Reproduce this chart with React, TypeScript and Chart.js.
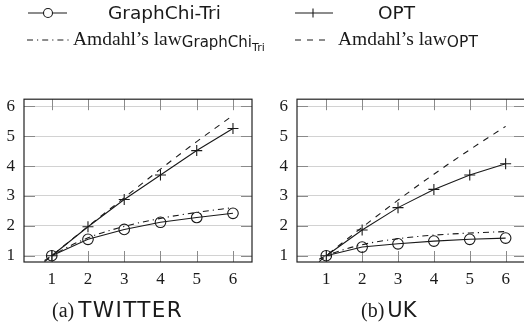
import React, { useEffect, useRef } from "react";
import { Chart, registerables } from "chart.js";

Chart.register(...registerables);

// ---- data ----
const xTicks = [1, 2, 3, 4, 5, 6];
const yTicks = [1, 2, 3, 4, 5, 6];
const threads = [1, 2, 3, 4, 5, 6];
const amdahlThreads = [0.8, 1, 2, 3, 4, 5, 6];

const twitterGraphChi = [1, 1.55, 1.88, 2.12, 2.28, 2.42];
const twitterOPT = [1, 1.97, 2.88, 3.7, 4.52, 5.26];
const twitterAmdahlGraphChi = [0.84, 1, 1.6, 1.98, 2.25, 2.45, 2.61];
const twitterAmdahlOPT = [0.8, 1, 1.98, 2.94, 3.9, 4.82, 5.7];

const ukGraphChi = [1, 1.29, 1.4, 1.49, 1.55, 1.59];
const ukOPT = [1, 1.86, 2.61, 3.22, 3.7, 4.08];
const ukAmdahlGraphChi = [0.88, 1, 1.37, 1.57, 1.69, 1.76, 1.81];
const ukAmdahlOPT = [0.8, 1, 1.95, 2.86, 3.73, 4.55, 5.33];

const INK = "#1a1a1a";

const framePlugin = {
  id: "pgfFrame",
  beforeDatasetsDraw(chart: any) {
    const { ctx, chartArea, scales } = chart;
    const { left, right, top, bottom } = chartArea;
    ctx.save();
    ctx.strokeStyle = "#8a8a8a";
    ctx.lineWidth = 1;
    ctx.beginPath();
    for (const v of xTicks) {
      const px = Math.round(scales.x.getPixelForValue(v)) + 0.5;
      ctx.moveTo(px, bottom);
      ctx.lineTo(px, bottom - 11);
      ctx.moveTo(px, top);
      ctx.lineTo(px, top + 11);
    }
    for (const v of yTicks) {
      const py = Math.round(scales.y.getPixelForValue(v)) + 0.5;
      ctx.moveTo(left, py);
      ctx.lineTo(left + 11, py);
      ctx.moveTo(right, py);
      ctx.lineTo(right - 11, py);
    }
    ctx.stroke();
    ctx.restore();
  },
  afterDatasetsDraw(chart: any) {
    const { ctx, chartArea } = chart;
    const { left, right, top, bottom } = chartArea;
    ctx.save();
    ctx.strokeStyle = "#222";
    ctx.lineWidth = 1.2;
    ctx.strokeRect(left, top, right - left, bottom - top);
    ctx.restore();
  },
};

type PanelProps = {
  left: number;
  width: number;
  xMin: number;
  xMax: number;
  axisWidth: number;
  padRight: number;
  graphChi: number[];
  opt: number[];
  amdahlGraphChi: number[];
  amdahlOPT: number[];
};

function Panel(p: PanelProps) {
  const ref = useRef<HTMLCanvasElement>(null);
  useEffect(() => {
    if (!ref.current) return;
    const line = (xs: number[], ys: number[]) => xs.map((x, i) => ({ x, y: ys[i] }));
    const chart = new Chart(ref.current, {
      type: "scatter",
      data: {
        datasets: [
          {
            data: line(amdahlThreads, p.amdahlOPT),
            showLine: true,
            borderColor: INK,
            borderWidth: 1.1,
            borderDash: [6, 6],
            pointRadius: 0,
            cubicInterpolationMode: "monotone",
          },
          {
            data: line(amdahlThreads, p.amdahlGraphChi),
            showLine: true,
            borderColor: INK,
            borderWidth: 1.1,
            borderDash: [6, 4, 1.2, 4],
            pointRadius: 0,
            cubicInterpolationMode: "monotone",
          },
          {
            data: line(threads, p.opt),
            showLine: true,
            borderColor: INK,
            borderWidth: 1.1,
            pointStyle: "cross",
            pointRadius: 5.5,
            pointBorderWidth: 1.1,
            pointBorderColor: INK,
            pointBackgroundColor: "transparent",
          },
          {
            data: line(threads, p.graphChi),
            showLine: true,
            borderColor: INK,
            borderWidth: 1.1,
            pointStyle: "circle",
            pointRadius: 5.3,
            pointBorderWidth: 1.1,
            pointBorderColor: INK,
            pointBackgroundColor: "transparent",
          },
        ],
      } as any,
      options: {
        animation: false,
        responsive: false,
        events: [],
        layout: { padding: { left: 0, top: 7, right: p.padRight, bottom: 0 } },
        plugins: { legend: { display: false }, tooltip: { enabled: false } },
        scales: {
          x: {
            type: "linear",
            min: p.xMin,
            max: p.xMax,
            afterBuildTicks: (s: any) => {
              s.ticks = xTicks.map((v) => ({ value: v }));
            },
            afterFit: (s: any) => {
              s.height = 28;
            },
            grid: { display: false, drawTicks: false },
            border: { display: false },
            ticks: {
              padding: 7,
              maxRotation: 0,
              color: INK,
              font: { family: "Liberation Serif", size: 17 },
            },
          },
          y: {
            type: "linear",
            min: 0.79,
            max: 6.24,
            afterBuildTicks: (s: any) => {
              s.ticks = yTicks.map((v) => ({ value: v }));
            },
            afterFit: (s: any) => {
              s.width = p.axisWidth;
            },
            grid: { color: "#d2d2d2", lineWidth: 1, drawTicks: false },
            border: { display: false },
            ticks: {
              padding: 9,
              color: INK,
              font: { family: "Liberation Serif", size: 17 },
            },
          },
        },
      } as any,
      plugins: [framePlugin],
    });
    return () => chart.destroy();
  }, []);
  return (
    <canvas
      ref={ref}
      width={p.width}
      height={210}
      style={{ position: "absolute", left: p.left, top: 80, width: p.width, height: 210 }}
    />
  );
}

const SANS = "'DejaVu Sans', sans-serif";
const SERIF = "'Liberation Serif', serif";

function Legend() {
  return (
    <svg
      width={524}
      height={326}
      style={{ position: "absolute", left: 0, top: 0, pointerEvents: "none" }}
    >
      {/* row 1 */}
      <line x1={28} y1={13} x2={67} y2={13} stroke={INK} strokeWidth={1.1} />
      <circle cx={48} cy={13} r={4.5} fill="white" stroke={INK} strokeWidth={1.1} />
      <text x={108} y={19} fontFamily={SANS} fontSize={18.5} fill={INK}>
        GraphChi-Tri
      </text>
      <line x1={295} y1={13} x2={333} y2={13} stroke={INK} strokeWidth={1.1} />
      <line x1={313} y1={8.5} x2={313} y2={17.5} stroke={INK} strokeWidth={1.1} />
      <text x={378} y={19} fontFamily={SANS} fontSize={18.5} fill={INK}>
        OPT
      </text>
      {/* row 2 */}
      <line
        x1={27}
        y1={40}
        x2={70}
        y2={40}
        stroke={INK}
        strokeWidth={1}
        strokeDasharray="6 4 1.2 4"
      />
      <text x={73} y={45} fontFamily={SERIF} fontSize={19.5} fill={INK}>
        Amdahl’s law
        <tspan fontFamily={SANS} fontSize={15} dy={2}>
          GraphChi
        </tspan>
        <tspan fontFamily={SANS} fontSize={11} dy={4}>
          Tri
        </tspan>
      </text>
      <line
        x1={295}
        y1={40}
        x2={327}
        y2={40}
        stroke={INK}
        strokeWidth={1}
        strokeDasharray="6 6"
      />
      <text x={338} y={45} fontFamily={SERIF} fontSize={19.5} fill={INK}>
        Amdahl’s law
        <tspan fontFamily={SANS} fontSize={15.5} dy={2}>
          OPT
        </tspan>
      </text>
      {/* captions */}
      <text x={52} y={317} fill={INK}>
        <tspan fontFamily={SERIF} fontSize={20}>
          (a)
        </tspan>
        <tspan fontFamily={SANS} fontSize={21.5} dx={4} letterSpacing={1.4}>
          TWITTER
        </tspan>
      </text>
      <text x={361} y={317} fill={INK}>
        <tspan fontFamily={SERIF} fontSize={20}>
          (b)
        </tspan>
        <tspan fontFamily={SANS} fontSize={21} dx={3}>
          UK
        </tspan>
      </text>
    </svg>
  );
}

export default function App() {
  return (
    <div
      style={{
        position: "fixed",
        left: 0,
        top: 0,
        width: 524,
        height: 326,
        overflow: "hidden",
        background: "white",
      }}
    >
      <Panel
        left={0}
        width={262}
        xMin={0.235}
        xMax={6.525}
        axisWidth={24}
        padRight={10}
        graphChi={twitterGraphChi}
        opt={twitterOPT}
        amdahlGraphChi={twitterAmdahlGraphChi}
        amdahlOPT={twitterAmdahlOPT}
      />
      <Panel
        left={262}
        width={270}
        xMin={0.184}
        xMax={6.54}
        axisWidth={35}
        padRight={7}
        graphChi={ukGraphChi}
        opt={ukOPT}
        amdahlGraphChi={ukAmdahlGraphChi}
        amdahlOPT={ukAmdahlOPT}
      />
      <Legend />
    </div>
  );
}
